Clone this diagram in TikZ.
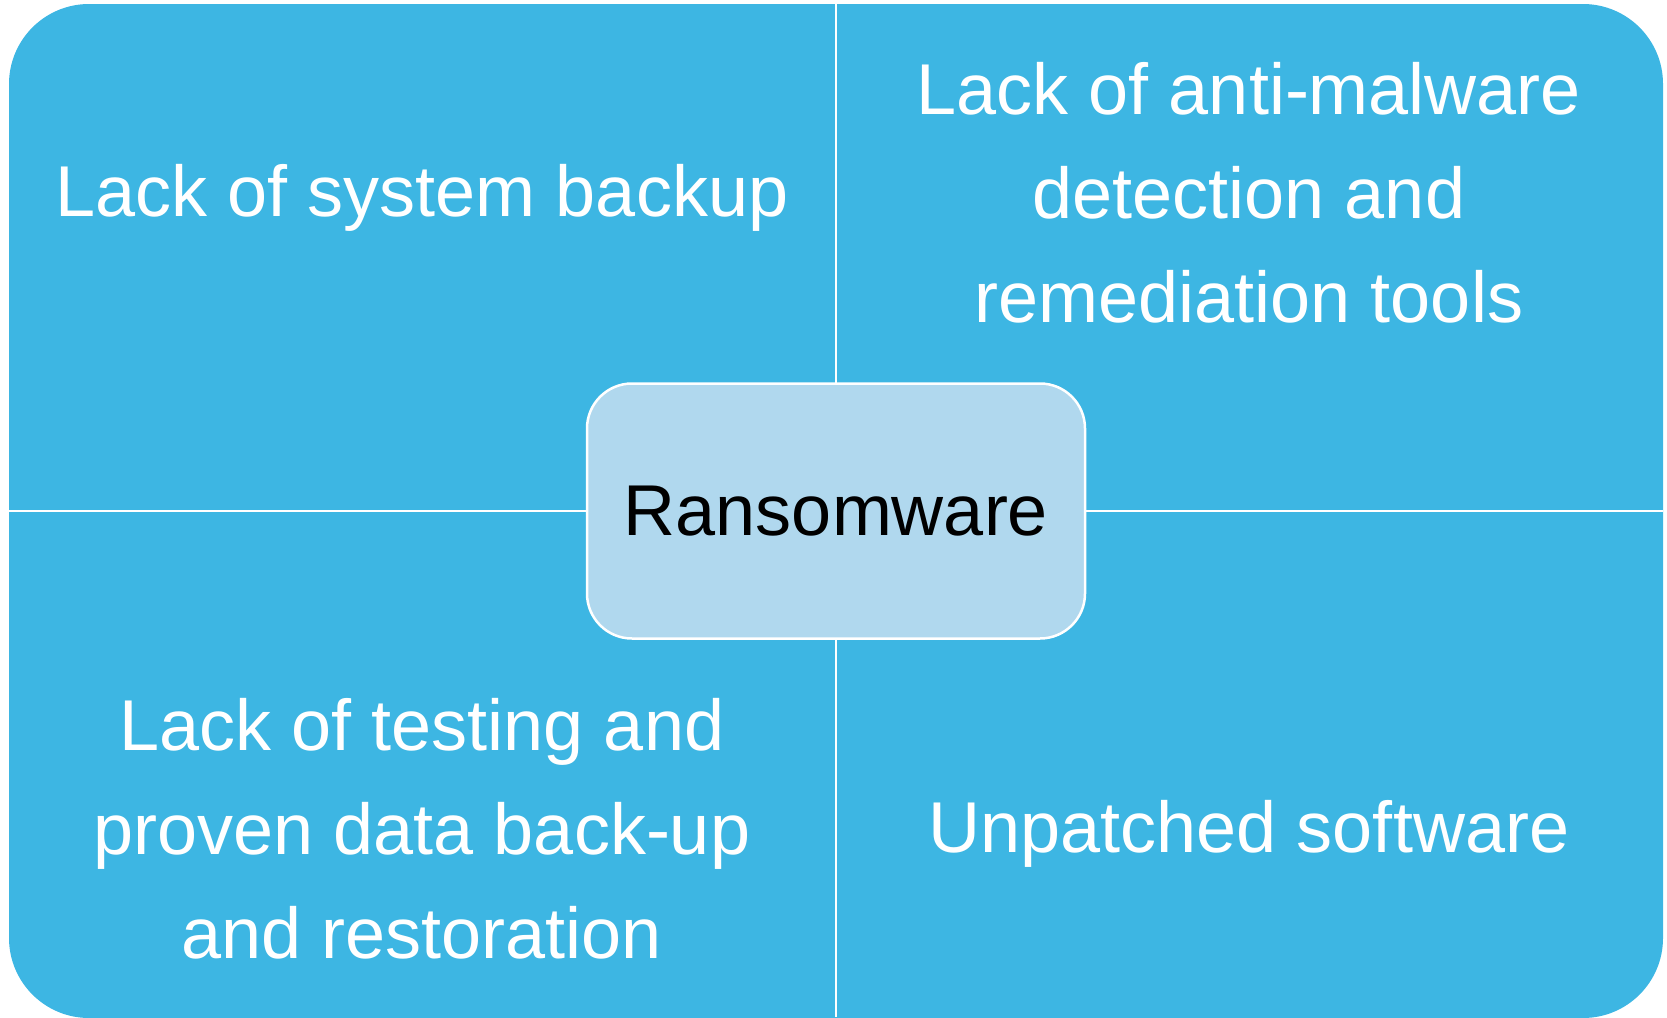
\documentclass[tikz,border=0pt]{standalone}
\usepackage{fontspec}
\setmainfont{Liberation Sans}
\definecolor{quadblue}{HTML}{3DB6E3}
\definecolor{centreblue}{HTML}{B0D8EE}

\begin{document}
\begin{tikzpicture}[x=1pt, y=-1pt,
    every node/.style={align=center, font=\fontsize{72}{104}\selectfont},
    quadtext/.style={text=white},
    divider/.style={draw=white, line width=2.5pt}]
\useasboundingbox (0,0) rectangle (1667,1017);
% Background of the four quadrants
\fill[quadblue, rounded corners=80pt] (9,4) rectangle (1663,1018);
% Divider lines
\coordinate (top) at (836,4);
\coordinate (bottom) at (836,1017);
\coordinate (left) at (9,511);
\coordinate (right) at (1663,511);
\draw[divider] (top) -- (bottom);
\draw[divider] (left) -- (right);
% Quadrant texts
\node[quadtext] (TL) at (422,198) {Lack of system backup};
\node[quadtext] (TR) at (1249,193) {Lack of anti-malware\\detection and\\remediation tools};
\node[quadtext] (BL) at (422,829) {Lack of testing and\\proven data back-up\\and restoration};
\node[quadtext] (BR) at (1249,834) {Unpatched software};
% Centre
\node[draw=white, line width=2.5pt, fill=centreblue, rounded corners=45pt,
      minimum width=498pt, minimum height=255pt, text=black] (R) at (836,511) {Ransomware};
\end{tikzpicture}
\end{document}
